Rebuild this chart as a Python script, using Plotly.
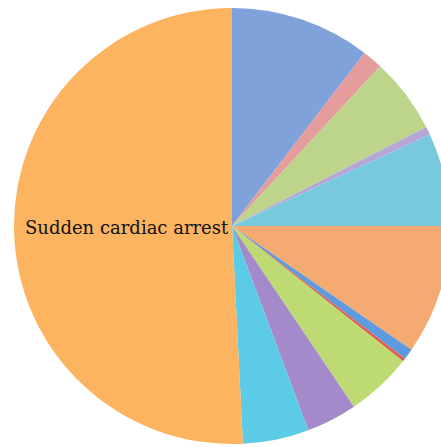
import plotly.graph_objects as go

labels = ["Cause A", "Cause B", "Cause C", "Cause D", "Cause E", "Cause F",
          "Cause G", "Cause H", "Cause I", "Cause J", "Cause K", "Sudden cardiac arrest"]
values = [10.4, 1.5, 5.6, 0.6, 6.9, 9.6, 0.8, 0.25, 4.9, 3.75, 4.9, 50.8]
colors = ["#80A2DA", "#E59C9C", "#BCD58A", "#B6A6D6", "#78C8DE", "#F4AA70",
          "#5E9AE0", "#E0604E", "#BDDB72", "#A58ACB", "#5CCBE5", "#FCB461"]

W, H = 460, 447
fig = go.Figure(go.Pie(
    labels=labels, values=values, sort=False, direction="clockwise", rotation=0,
    marker=dict(colors=colors, line=dict(width=0)),
    textinfo="none", hoverinfo="label+percent", showlegend=False,
    domain=dict(x=[14 / W, 450 / W], y=[1 - 444 / H, 1 - 8 / H]),
))
fig.add_annotation(text="Sudden cardiac arrest", x=127 / W, y=1 - 227 / H,
                   xref="paper", yref="paper", xanchor="center", yanchor="middle",
                   showarrow=False,
                   font=dict(family="DejaVu Serif, serif", size=18, color="#111111"))
fig.update_layout(width=W, height=H, margin=dict(l=0, r=0, t=0, b=0),
                  paper_bgcolor="white", plot_bgcolor="white")
fig.write_html("out.html", config={"displayModeBar": False},
               post_script="document.body.style.margin='0';document.body.style.overflow='hidden';document.documentElement.style.overflow='hidden';")
